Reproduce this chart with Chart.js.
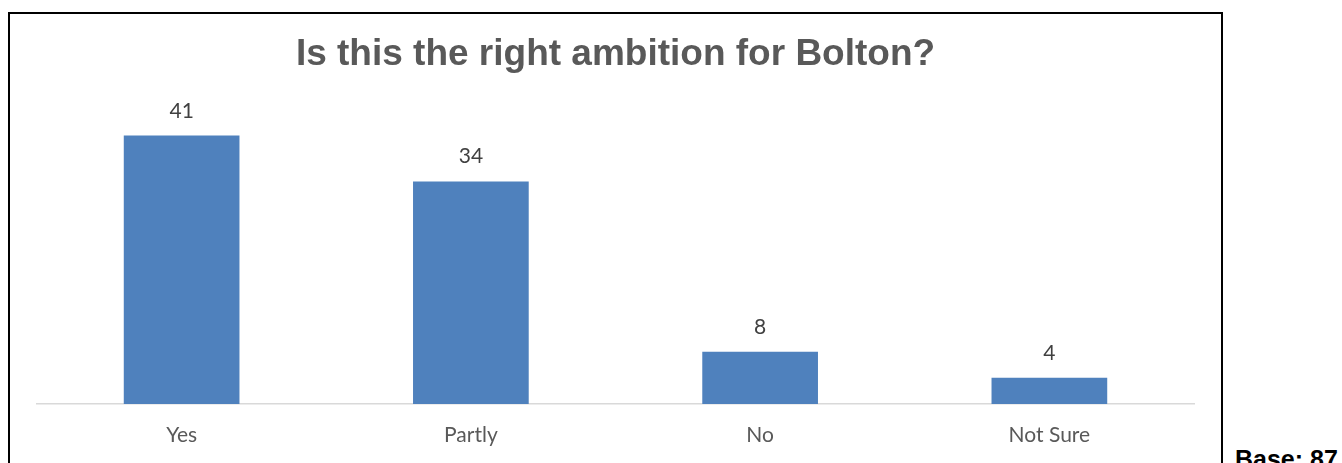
<!DOCTYPE html>
<html>
<head>
<meta charset="utf-8">
<script src="https://cdn.jsdelivr.net/npm/chart.js@4.4.1/dist/chart.umd.min.js"></script>
<style>
  html, body { margin: 0; padding: 0; background: #fff; }
  body { width: 1342px; height: 463px; position: relative; overflow: hidden; }
  .frame {
    position: absolute; left: 8px; top: 12px; width: 1211px; height: 470px;
    border: 2px solid #000; border-bottom: none;
  }
  .chart-box { position: absolute; left: 10px; top: 14px; width: 1210px; height: 449px; }
  .base-note {
    position: absolute; left: 1235px; top: 447px; line-height: 1;
    font: bold 25px "Liberation Sans", Arial, sans-serif; color: #000; white-space: nowrap;
  }
</style>
</head>
<body>
<div class="frame"></div>
<div class="chart-box"><canvas id="ambitionChart"></canvas></div>
<div class="base-note" style="line-height:1">Base: 87</div>

<script>
const categories = ['Yes', 'Partly', 'No', 'Not Sure'];
const responses  = [41, 34, 8, 4];

/* ── Value labels above each bar ─────────────────────────── */
const barValueLabels = {
  id: 'barValueLabels',
  afterDatasetsDraw(chart) {
    const ctx = chart.ctx;
    const meta = chart.getDatasetMeta(0);
    ctx.save();
    ctx.font = '21px Lato, "Open Sans", sans-serif';
    ctx.fillStyle = '#404040';
    ctx.textAlign = 'center';
    ctx.textBaseline = 'alphabetic';
    meta.data.forEach((bar, i) => {
      ctx.fillText(String(chart.data.datasets[0].data[i]), bar.x, bar.y - 18);
    });
    ctx.restore();
  }
};

new Chart(document.getElementById('ambitionChart'), {
  type: 'bar',
  data: {
    labels: categories,
    datasets: [{
      data: responses,
      backgroundColor: '#4f81bd',
      borderWidth: 0,
      categoryPercentage: 1,
      barPercentage: 0.4
    }]
  },
  options: {
    responsive: true,
    maintainAspectRatio: false,
    animation: false,
    layout: { padding: { left: 27, right: 26, top: 0, bottom: 0 } },
    plugins: {
      legend: { display: false },
      tooltip: { enabled: false },
      title: {
        display: true,
        text: 'Is this the right ambition for Bolton?',
        color: '#595959',
        font: { family: '"Liberation Sans", Arial, sans-serif', size: 37, weight: 'bold' },
        padding: { top: 19, bottom: 32 }
      }
    },
    scales: {
      y: { display: false, min: 0, max: 45 },
      x: {
        grid: { display: false, drawTicks: false },
        border: { display: true, color: '#d9d9d9', width: 1.5 },
        ticks: {
          color: '#595959',
          padding: 19,
          font: { family: 'Lato, "Open Sans", sans-serif', size: 21 }
        },
        afterFit(scale) { scale.height = 59; }
      }
    }
  },
  plugins: [barValueLabels]
});
</script>
</body>
</html>
